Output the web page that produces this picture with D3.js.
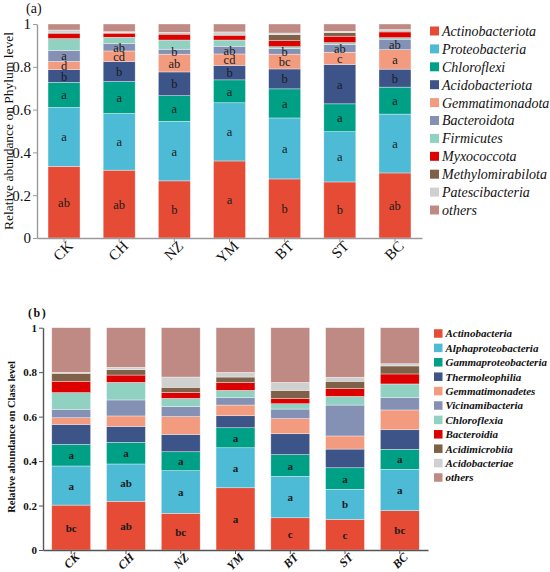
<!DOCTYPE html>
<html>
<head>
<meta charset="utf-8">
<script src="https://cdn.jsdelivr.net/npm/d3@7"></script>
<style>
  body { margin: 0; background: #fff; }
  svg { display: block; }
  svg text { font-family: "Liberation Serif", "Times New Roman", serif; }
</style>
</head>
<body>
<div id="chart"></div>
<script>
const groups = ["CK", "CH", "NZ", "YM", "BT", "ST", "BC"];
const yTicks = [0, 0.2, 0.4, 0.6, 0.8, 1];

// (a) phylum level
const phyla = ["Actinobacteriota", "Proteobacteria", "Chloroflexi", "Acidobacteriota", "Gemmatimonadota",
    "Bacteroidota", "Firmicutes", "Myxococcota", "Methylomirabilota", "Patescibacteria", "others"];
const actinobacteriota = [0.335, 0.317, 0.267, 0.360, 0.276, 0.262, 0.304];
const proteobacteria = [0.275, 0.265, 0.278, 0.272, 0.285, 0.235, 0.275];
const chloroflexi = [0.117, 0.149, 0.120, 0.107, 0.136, 0.130, 0.126];
const acidobacteriota = [0.060, 0.094, 0.111, 0.068, 0.093, 0.184, 0.084];
const gemmatimonadota = [0.038, 0.049, 0.083, 0.053, 0.069, 0.057, 0.091];
const bacteroidota = [0.051, 0.034, 0.023, 0.036, 0.026, 0.036, 0.049];
const firmicutes = [0.056, 0.030, 0.043, 0.029, 0.009, 0.009, 0.007];
const myxococcota = [0.023, 0.019, 0.025, 0.022, 0.028, 0.030, 0.027];
const methylomirabilota = [0.006, 0.003, 0.007, 0.005, 0.028, 0.017, 0.004];
const patescibacteria = [0.011, 0.004, 0.004, 0.011, 0.008, 0.006, 0.007];
const othersPhylum = [0.028, 0.036, 0.039, 0.037, 0.042, 0.034, 0.026];
const phylumSeries = [actinobacteriota, proteobacteria, chloroflexi, acidobacteriota, gemmatimonadota,
    bacteroidota, firmicutes, myxococcota, methylomirabilota, patescibacteria, othersPhylum];
// significance letters for the first six phyla
const phylumLetters = [
    ["ab", "ab", "b", "a", "b", "b", "ab"],
    ["a", "a", "a", "a", "a", "a", "a"],
    ["a", "a", "a", "a", "a", "a", "a"],
    ["b", "b", "b", "b", "b", "a", "b"],
    ["d", "cd", "ab", "cd", "bc", "c", "a"],
    ["a", "ab", "b", "ab", "b", "ab", "ab"]
];

// (b) class level
const classes = ["Actinobacteria", "Alphaproteobacteria", "Gammaproteobacteria", "Thermoleophilia", "Gemmatimonadetes",
    "Vicinamibacteria", "Chloroflexia", "Bacteroidia", "Acidimicrobiia", "Acidobacteriae", "others"];
const actinobacteria = [0.202, 0.219, 0.165, 0.280, 0.145, 0.138, 0.177];
const alphaproteobacteria = [0.176, 0.168, 0.192, 0.180, 0.186, 0.135, 0.186];
const gammaproteobacteria = [0.097, 0.097, 0.085, 0.090, 0.098, 0.097, 0.090];
const thermoleophilia = [0.090, 0.072, 0.078, 0.054, 0.094, 0.084, 0.088];
const gemmatimonadetes = [0.030, 0.047, 0.080, 0.048, 0.068, 0.059, 0.089];
const vicinamibacteria = [0.038, 0.072, 0.045, 0.033, 0.043, 0.139, 0.055];
const chloroflexia = [0.075, 0.079, 0.037, 0.033, 0.024, 0.039, 0.062];
const bacteroidia = [0.051, 0.033, 0.027, 0.036, 0.024, 0.035, 0.045];
const acidimicrobiia = [0.036, 0.024, 0.023, 0.024, 0.036, 0.033, 0.036];
const acidobacteriae = [0.004, 0.011, 0.046, 0.021, 0.036, 0.018, 0.010];
const othersClass = [0.201, 0.178, 0.222, 0.201, 0.246, 0.223, 0.162];
const classSeries = [actinobacteria, alphaproteobacteria, gammaproteobacteria, thermoleophilia, gemmatimonadetes,
    vicinamibacteria, chloroflexia, bacteroidia, acidimicrobiia, acidobacteriae, othersClass];
const classLetters = [
    ["bc", "ab", "bc", "a", "c", "c", "bc"],
    ["a", "ab", "a", "a", "a", "b", "a"],
    ["a", "a", "a", "a", "a", "a", "a"]
];

const palette = ["#e64b35", "#4dbbd5", "#00a087", "#3c5488", "#f39b7f", "#8491b4",
    "#91d1c2", "#dc0000", "#7e6148", "#d0d0d0", "#bf8a83"];

const width = 550;
const height = 572;
const serif = "Liberation Serif, Times New Roman, serif";

const svg = d3.select("#chart")
    .append("svg")
    .attr("width", width)
    .attr("height", height);

function drawPanel(cfg) {
    const rows = groups.map((g, i) => {
        const row = { group: g };
        cfg.keys.forEach((k, j) => row[k] = cfg.series[j][i]);
        return row;
    });
    const stacked = d3.stack().keys(cfg.keys)(rows);

    const x = d3.scaleBand()
        .domain(groups)
        .range([cfg.left, cfg.right])
        .paddingInner(cfg.padIn)
        .paddingOuter(cfg.padOut);

    const y = d3.scaleLinear()
        .domain([0, 1])
        .range([cfg.bottom, cfg.top]);

    const color = d3.scaleOrdinal().domain(cfg.keys).range(palette);
    const weight = cfg.bold ? "bold" : "normal";

    const g = svg.append("g");

    g.selectAll("g.layer")
        .data(stacked)
        .enter()
        .append("g")
        .attr("class", "layer")
        .attr("fill", d => color(d.key))
        .selectAll("rect")
        .data(d => d)
        .enter()
        .append("rect")
        .attr("x", d => x(d.data.group))
        .attr("y", d => y(d[1]))
        .attr("width", x.bandwidth())
        .attr("height", d => Math.max(0, y(d[0]) - y(d[1])))
        .attr("stroke", "rgba(255,255,255,0.6)")
        .attr("stroke-width", 0.6);

    // letters
    cfg.letters.forEach((lt, j) => {
        g.selectAll(null)
            .data(stacked[j])
            .enter()
            .append("text")
            .attr("x", (d, i) => x(groups[i]) + x.bandwidth() / 2)
            .attr("y", d => (y(d[0]) + y(d[1])) / 2 + cfg.letterDy)
            .attr("text-anchor", "middle")
            .attr("font-family", serif)
            .attr("font-size", cfg.letterSize)
            .attr("font-weight", weight)
            .attr("fill", "#1a1a1a")
            .text((d, i) => lt[i]);
    });

    // y axis
    const yAxis = g.append("g")
        .attr("transform", `translate(${cfg.left},0)`)
        .call(d3.axisLeft(y).tickValues(yTicks).tickFormat(d3.format("~g")).tickSize(4).tickSizeOuter(0));
    yAxis.attr("font-family", serif);
    yAxis.select(".domain").attr("stroke", cfg.axisColor).attr("stroke-width", 1.4);
    yAxis.selectAll(".tick line").attr("stroke", cfg.axisColor);
    yAxis.selectAll(".tick text")
        .attr("font-family", serif)
        .attr("font-size", cfg.tickSize)
        .attr("font-weight", weight)
        .attr("fill", "#111")
        .attr("x", -6);

    // x axis
    const xAxis = g.append("g")
        .attr("transform", `translate(0,${cfg.bottom})`)
        .call(d3.axisBottom(x).tickSize(4).tickSizeOuter(0));
    xAxis.attr("font-family", serif);
    xAxis.select(".domain").attr("stroke", cfg.axisColor).attr("stroke-width", 1.4);
    xAxis.selectAll(".tick line").attr("stroke", cfg.axisColor);
    xAxis.selectAll(".tick text")
        .attr("font-family", serif)
        .attr("font-size", cfg.xSize)
        .attr("font-weight", weight)
        .attr("font-style", cfg.bold ? "italic" : "normal")
        .attr("fill", "#111")
        .attr("text-anchor", "end")
        .attr("dy", 0)
        .attr("transform", `translate(${cfg.xDx},${cfg.xDy}) rotate(-45)`);

    // y label
    g.append("text")
        .attr("transform", `translate(${cfg.yLabelX},${cfg.yLabelY}) rotate(-90)`)
        .attr("text-anchor", "middle")
        .attr("font-family", serif)
        .attr("font-size", cfg.yLabelSize)
        .attr("font-weight", weight)
        .attr("fill", "#111")
        .text(cfg.yLabel);

    // panel tag
    g.append("text")
        .attr("x", cfg.tagX)
        .attr("y", cfg.tagY)
        .attr("font-family", serif)
        .attr("font-size", cfg.tagSize)
        .attr("font-weight", weight)
        .attr("letter-spacing", cfg.bold ? "1.5px" : "0px")
        .attr("fill", "#111")
        .text(cfg.tag);

    // legend
    const legend = g.selectAll("g.legend")
        .data(cfg.keys)
        .enter()
        .append("g")
        .attr("transform", (d, i) => `translate(${cfg.legX},${cfg.legY + i * cfg.legStep})`);
    legend.append("rect")
        .attr("x", 0)
        .attr("y", -cfg.legBox / 2)
        .attr("width", cfg.legBox)
        .attr("height", cfg.legBox)
        .attr("fill", d => color(d));
    legend.append("text")
        .attr("x", cfg.legBox + 3)
        .attr("y", cfg.legSize * 0.35)
        .attr("font-family", serif)
        .attr("font-size", cfg.legSize)
        .attr("font-style", "italic")
        .attr("font-weight", weight)
        .attr("fill", "#111")
        .text(d => d);
}

drawPanel({
    keys: phyla, series: phylumSeries, letters: phylumLetters,
    left: 37, right: 422, top: 24, bottom: 238, padIn: 0.42, padOut: 0.2,
    bold: false, letterSize: 12.5, letterDy: 4.5, tickSize: 15, xSize: 15, xDx: 5, xDy: 4,
    axisColor: "#9a9a9a",
    yLabel: "Relative abundance on Phylum level", yLabelX: 13, yLabelY: 131, yLabelSize: 13.5,
    tag: "(a)", tagX: 26, tagY: 13, tagSize: 14,
    legX: 430, legY: 31, legStep: 17.9, legBox: 9, legSize: 14
});

drawPanel({
    keys: classes, series: classSeries, letters: classLetters,
    left: 43, right: 428, top: 327.7, bottom: 550, padIn: 0.29, padOut: 0.16,
    bold: true, letterSize: 11, letterDy: 4, tickSize: 11, xSize: 12, xDx: 4, xDy: 3,
    axisColor: "#555",
    yLabel: "Relative abundance on Class level", yLabelX: 15, yLabelY: 437, yLabelSize: 10.5,
    tag: "(b)", tagX: 28, tagY: 317, tagSize: 12,
    legX: 434, legY: 333.5, legStep: 14.4, legBox: 8.5, legSize: 11
});
</script>
</body>
</html>
